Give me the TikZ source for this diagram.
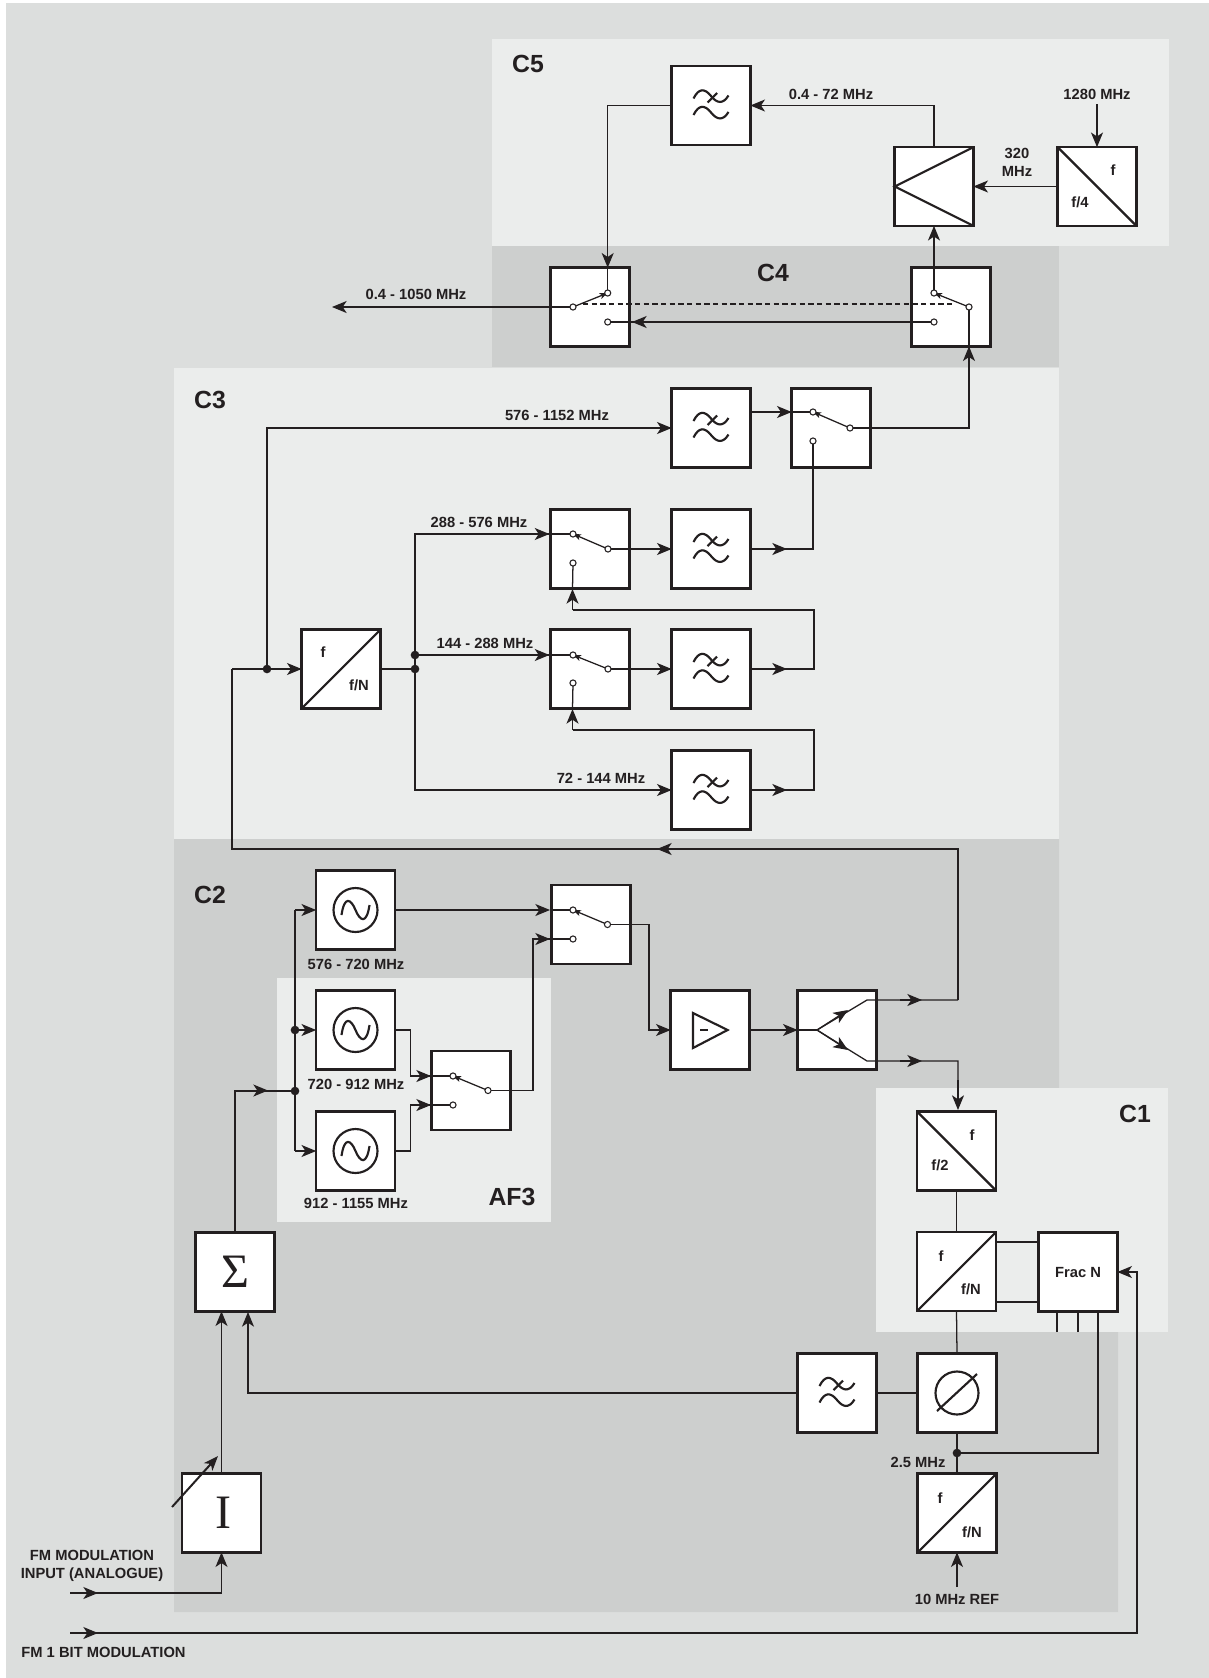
\documentclass[tikz,border=0pt]{standalone}
\usepackage{fontspec}
\setmainfont{Liberation Sans}
\newfontfamily\serifgreek{Liberation Serif}
\usetikzlibrary{arrows.meta,calc}
\definecolor{bgc}{HTML}{DCDEDD}
\definecolor{lightc}{HTML}{EBEDEC}
\definecolor{darkc}{HTML}{CDCFCE}
\definecolor{inkc}{HTML}{231F20}
\tikzset{
  blockbox/.style={draw=inkc,fill=white,line width=1.9pt,minimum width=59pt,minimum height=59pt,inner sep=0pt,outer sep=0pt},
  thin line/.style={draw=inkc,line width=0.95pt},
  sym line/.style={draw=inkc,line width=1.6pt},
  arrowed/.style={thin line,-{Stealth[length=11pt,width=9pt,inset=3pt]}},
  tiponly/.style={thin line,-{Stealth[length=11pt,width=9pt,inset=3pt]}},
  armarrow/.style={thin line,-{Stealth[length=6pt,width=4.5pt,inset=1.5pt]}},
  contact/.style={circle,draw=inkc,fill=white,line width=0.8pt,minimum size=4.6pt,inner sep=0pt,outer sep=0pt},
  junction/.style={circle,fill=inkc,minimum size=6.5pt,inner sep=0pt,outer sep=0pt},
  lbl/.style={font=\fontsize{11.05}{12.5}\selectfont\bfseries,text=inkc,inner sep=0pt,align=center},
  head/.style={font=\fontsize{18.6}{20}\selectfont\bfseries,text=inkc,inner sep=0pt},
}
% filter symbol inside block #1 (two tildes and a stroke)
\newcommand{\filtersym}[1]{%
  \begin{scope}[shift={(#1)}]
  \draw[sym line] (-17.5,-7) .. controls (-12,-18) and (-6,-17) .. (0,-9.5) .. controls (6,-2) and (12,-1) .. (17.5,-10);
  \draw[sym line] (-17.5,9.5) .. controls (-12,-1.5) and (-6,-0.5) .. (0,7) .. controls (6,14.5) and (12,15.5) .. (17.5,6.5);
  \draw[sym line] (-3.5,-3) -- (6,-12.5);
  \end{scope}
}
% sine oscillator symbol inside block #1
\newcommand{\oscsym}[1]{%
  \begin{scope}[shift={(#1)}]
  \draw[sym line] (0,0) circle[radius=22];
  \draw[sym line] (-14,5) .. controls (-11,-15) and (-4.5,-11) .. (0,0) .. controls (4.5,11) and (11,15) .. (14,-5);
  \end{scope}
}
\begin{document}
\begin{tikzpicture}[x=0.75pt,y=-0.75pt]
\useasboundingbox (0,0) rectangle (1209,1678);
\fill[white] (0,0) rectangle (1209,1678);
\fill[bgc] (6,3) rectangle (1209,1678);
% panels
\fill[darkc] (492,246) rectangle (1059,367);
\fill[lightc] (174,368) rectangle (1059,839);
\fill[darkc] (174,839) -- (1059,839) -- (1059,1300) -- (1118,1300) -- (1118,1612) -- (174,1612) -- cycle;
\fill[lightc] (277,978) rectangle (551,1222);
\fill[lightc] (876,1088) rectangle (1168,1332);
\fill[lightc] (492,39) rectangle (1169,246);
% blocks
\node[blockbox] (ftop) at (711,105.5) {};
\node[blockbox] (mix) at (934,186.5) {};
\node[blockbox] (div4) at (1097,186.5) {};
\node[blockbox] (swL) at (590,307) {};
\node[blockbox] (swR) at (951,307) {};
\node[blockbox] (f1) at (711,428) {};
\node[blockbox] (s3) at (831,428) {};
\node[blockbox] (s2) at (590,549) {};
\node[blockbox] (f2) at (711,549) {};
\node[blockbox] (s1) at (590,669) {};
\node[blockbox] (f3) at (711,669) {};
\node[blockbox] (f4) at (711,790) {};
\node[blockbox] (divN) at (341,669) {};
\node[blockbox] (osc1) at (355.5,910) {};
\node[blockbox] (osc2) at (355.5,1030) {};
\node[blockbox] (osc3) at (355.5,1151) {};
\node[blockbox] (swA) at (591,924.5) {};
\node[blockbox] (swB) at (471,1090.5) {};
\node[blockbox] (amp) at (710,1030) {};
\node[blockbox] (split) at (837,1030) {};
\node[blockbox] (div2) at (956.5,1151) {};
\node[blockbox] (divC) at (956.5,1271.5) {};
\node[blockbox] (frac) at (1078,1272) {};
\node[blockbox] (phase) at (957,1393) {};
\node[blockbox] (fL) at (837,1393) {};
\node[blockbox] (divR) at (957,1513) {};
\node[blockbox] (sig) at (235,1272) {};
\node[blockbox] (cur) at (221.5,1513) {};
% block symbols
\filtersym{ftop}\filtersym{f1}\filtersym{f2}\filtersym{f3}\filtersym{f4}\filtersym{fL}
\oscsym{osc1}\oscsym{osc2}\oscsym{osc3}
\draw[sym line] (mix.north east) -- (mix.west) -- (mix.south east);
\draw[sym line] (div4.north west) -- (div4.south east);
\draw[sym line] (div2.north west) -- (div2.south east);
\draw[sym line] (divN.south west) -- (divN.north east);
\draw[sym line] (divC.south west) -- (divC.north east);
\draw[sym line] (divR.south west) -- (divR.north east);
\draw[sym line] (phase) circle[radius=21.5];
\draw[sym line] ($(phase)+(-20,18)$) -- ($(phase)+(20,-19)$);
\draw[sym line] (693,1013) -- (693,1048) -- (727.6,1030) -- cycle;
\draw[sym line] (700,1030) -- (708,1030);
% contacts
\foreach \n/\x/\y in {
 lu/607.7/293, lc/573/307, ll/607.7/322,
 ru/934/293, rc/969/307, rl/934/322,
 s3u/813/412, s3c/850/428, s3l/813/441,
 s2u/573/534, s2c/608/549, s2l/573/563,
 s1u/573/655, s1c/608/669, s1l/573/683,
 au/573/910, ac/607.5/924.5, al/573/939,
 bu/453/1076, bc/488/1090.5, bl/453/1105}{
  \coordinate (\n) at (\x,\y);
}
% connectors
\draw[thin line,line width=0.8pt,dash pattern=on 4pt off 2.5pt] (583,304) -- (955,304);
\draw[arrowed] (ftop.west) -- (lu |- ftop.west) -- (lu |- swL.north);
\draw[thin line] (lu |- swL.north) -- (lu);
\draw[arrowed] (mix.north) |- (ftop.east);
\draw[arrowed] (div4.west) -- (mix.east);
\coordinate (in1280) at (1097,104);
\draw[arrowed] (in1280) -- (div4.north);
\draw[arrowed] (ru) -- (mix.south);
\coordinate (out0) at (332,307);
\draw[arrowed] (lc) -- (out0);
\draw[thin line] (rl) -- (ll);
\draw[tiponly] (650,322) -- (632,322);
% C3 network
\node[junction] (jin) at (267,669) {};
\node[junction] (j1) at (415,669) {};
\node[junction] (j2) at (415,655) {};
\draw[arrowed] (jin) |- (f1.west);
\draw[arrowed] (232,669) -- (divN.west);
\draw[thin line] (divN.east) -- (j1);
\draw[thin line] (j2) -- (415,534) -- (s2u);
\draw[arrowed] (415,534) -- (549.4,534);
\draw[thin line] (j2) -- (s1u);
\draw[arrowed] (j2) -- (549.4,655);
\draw[arrowed] (j1) |- (f4.west);
\draw[thin line] (j1) -- (j2);
\draw[arrowed] (s2c) -- (f2.west);
\draw[arrowed] (s1c) -- (f3.west);
\draw[thin line] (f1.east |- 0,412) -- (s3u);
\draw[arrowed] (751,412) -- (s3.west |- 0,412);
\draw[arrowed] (s3c) -| (rc |- swR.south) ;
\draw[thin line] (969,348) -- (rc);
\draw[thin line] (f2.east) -| (s3l);
\draw[tiponly] (770,549) -- (787,549);
\draw[thin line] (f3.east) -- (814,669) |- (572.5,610);
\draw[arrowed] (572.5,610) -- (572.5,589);
\draw[thin line] (572.5,589) -- (s2l);
\draw[tiponly] (770,669) -- (787,669);
\draw[thin line] (f4.east) -- (814,790) |- (572.5,730);
\draw[arrowed] (572.5,730) -- (572.5,709);
\draw[thin line] (572.5,709) -- (s1l);
\draw[tiponly] (770,790) -- (787,790);
% feedback to C3
\draw[thin line] (958,1000) -- (958,849) -- (232,849) -- (232,669);
\draw[tiponly] (680,849) -- (657,849);
% C2 network
\node[junction] (jos) at (295,1030) {};
\node[junction] (jsum) at (295,1091) {};
\draw[thin line] (jos |- osc1.west) -- (jos |- osc3.west);
\draw[arrowed] (jos |- osc1.west) -- (osc1.west);
\draw[arrowed] (jos) -- (osc2.west);
\draw[arrowed] (jos |- osc3.west) -- (osc3.west);
\draw[arrowed] (osc1.east) -- (550,910);
\draw[thin line] (550,910) -- (au);
\draw[thin line] (bc) -- (533,1090.5) -- (533,939) -- (al);
\draw[arrowed] (533,939) -- (550,939);
\draw[thin line] (osc2.east) -- (410.6,1030) |- (bu);
\draw[arrowed] (410.6,1076) -- (431,1076);
\draw[thin line] (osc3.east) -- (410.6,1151) |- (bl);
\draw[arrowed] (410.6,1105) -- (431,1105);
\draw[thin line] (ac) -- (649,924.5) |- (amp.west);
\draw[tiponly] (649,1030) -- (amp.west);
\coordinate (spin) at (817,1030);
\draw[thin line] (amp.east) -- (spin);
\draw[arrowed] (amp.east) -- (split.west);
\coordinate (spu) at (867,1000);
\coordinate (spl) at (867,1061);
\draw[thin line] (spin) -- (spu) -- (958,1000);
\draw[thin line] (spin) -- (spl) -- (958,1061) -- (958,1090);
\draw[tiponly] (spin) -- (848,1010);
\draw[tiponly] (spin) -- (848,1050);
\draw[tiponly] (900,1000) -- (922,1000);
\draw[tiponly] (900,1061) -- (922,1061);
\draw[arrowed] (958,1080) -- (958,1110);
\draw[thin line] (sig.north) |- (jsum);
\draw[tiponly] (250,1090.5) -- (268,1090.5);
% C1 network
\draw[thin line] (div2.south) -- (divC.north);
\draw[thin line] (divC.south) -- (phase.north);
\draw[thin line] (divC.east |- 0,1242) -- (frac.west |- 0,1242);
\draw[thin line] (divC.east |- 0,1302) -- (frac.west |- 0,1302);
\coordinate (stub1) at (1057,1332);
\coordinate (stub2) at (1078,1332);
\draw[thin line] (stub1) -- (stub1 |- frac.south);
\draw[thin line] (stub2) -- (stub2 |- frac.south);
\node[junction] (jref) at (957,1453) {};
\draw[thin line] (phase.south) -- (divR.north);
\draw[thin line] (jref) -| (1098,1312.5);
\draw[thin line] (fL.east) -- (phase.west);
\coordinate (in10) at (957,1587);
\draw[arrowed] (in10) -- (divR.south);
% inputs
\coordinate (fm1) at (70,1633);
\coordinate (fm2) at (70,1593);
\draw[thin line] (fm1) -- (1137,1633) |- (frac.east);
\draw[arrowed] (1137,1272) -- (frac.east);
\draw[tiponly] (75,1633) -- (98,1633);
\draw[arrowed] (fm2) -| (cur.south);
\draw[tiponly] (75,1593) -- (98,1593);
\draw[arrowed] (cur.north) -- (sig.south -| cur.north);
\draw[arrowed] (fL.west) -| (248,1312);
\draw[thin line,line width=1.5pt,-{Stealth[length=11pt,width=8.5pt,inset=3pt]}] (172,1507) -- (218,1456);
% switch arms and contacts
\draw[armarrow] (lc) -- (lu);
\draw[armarrow] (rc) -- (ru);
\draw[armarrow] (s3c) -- (s3u);
\draw[armarrow] (s2c) -- (s2u);
\draw[armarrow] (s1c) -- (s1u);
\draw[armarrow] (ac) -- (au);
\draw[armarrow] (bc) -- (bu);
\foreach \n in {lu,lc,ll,ru,rc,rl,s3u,s3c,s3l,s2u,s2c,s2l,s1u,s1c,s1l,au,ac,al,bu,bc,bl}{
  \node[contact] at (\n) {};
}
% labels
\node[lbl] at (831,94) {0.4 - 72 MHz};
\node[lbl] at (1097,94) {1280 MHz};
\node[lbl] at (1017,162) {320\\[1pt]MHz};
\node[lbl] at (416,294) {0.4 - 1050 MHz};
\node[lbl] at (557,415) {576 - 1152 MHz};
\node[lbl] at (479,522) {288 - 576 MHz};
\node[lbl] at (485,643) {144 - 288 MHz};
\node[lbl] at (601,778) {72 - 144 MHz};
\node[lbl] at (356,964) {576 - 720 MHz};
\node[lbl] at (356,1084) {720 - 912 MHz};
\node[lbl] at (356,1203) {912 - 1155 MHz};
\node[lbl] at (918,1462) {2.5 MHz};
\node[lbl] at (957,1599) {10 MHz REF};
\node[lbl] at (92,1566) {FM MODULATION\\[1pt]INPUT (ANALOGUE)};
\node[lbl] at (103.5,1652) {FM 1 BIT MODULATION};
\node[lbl] at (1113,170) {f};
\node[lbl] at (1080,202) {f/4};
\node[lbl] at (323,652) {f};
\node[lbl] at (359,685) {f/N};
\node[lbl] at (972,1135) {f};
\node[lbl] at (940,1165) {f/2};
\node[lbl] at (941,1256) {f};
\node[lbl] at (971,1289) {f/N};
\node[lbl] at (940,1498) {f};
\node[lbl] at (972,1532) {f/N};
\node[lbl] at (frac) {Frac N};
\node[head] at (528,64) {C5};
\node[head] at (773,273) {C4};
\node[head] at (210,400) {C3};
\node[head] at (210,895) {C2};
\node[head] at (1135,1114) {C1};
\node[head] at (512,1197) {AF3};
\node[font=\serifgreek\fontsize{36}{36}\selectfont,text=inkc,inner sep=0pt] at (sig) {Σ};
\node[font=\serifgreek\fontsize{36}{36}\selectfont,text=inkc,inner sep=0pt] at (223,1513) {I};
\end{tikzpicture}
\end{document}
